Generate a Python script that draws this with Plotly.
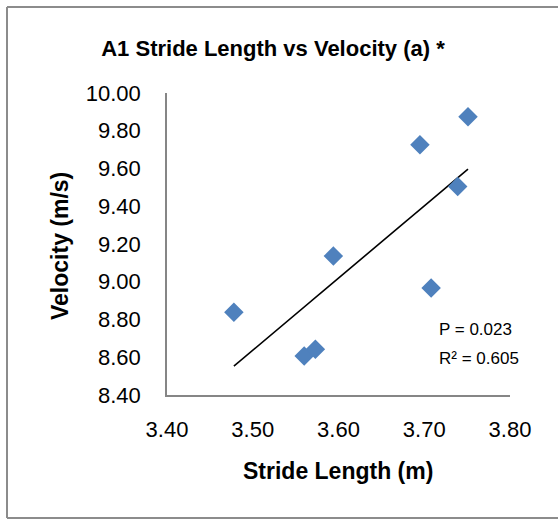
import numpy as np
import plotly.graph_objects as go

# Stride length (m) and velocity (m/s) per trial
stride_length = [3.478, 3.560, 3.573, 3.594, 3.695, 3.708, 3.739, 3.751]
velocity = [8.838, 8.607, 8.642, 9.136, 9.726, 8.967, 9.504, 9.874]

x_ticks = [3.40, 3.50, 3.60, 3.70, 3.80]
y_ticks = [8.40, 8.60, 8.80, 9.00, 9.20, 9.40, 9.60, 9.80, 10.00]

stats_lines = ["P = 0.023", "R² = 0.605"]

# Linear trend over the observed range
slope, intercept = np.polyfit(stride_length, velocity, 1)
trend_x = [min(stride_length), max(stride_length)]
trend_y = [slope * v + intercept for v in trend_x]

W, H = 558, 520
L, R, T, B = 167, 510, 93, 395  # plot-area edges in pixels

def px(x):
    return (x - L) / (R - L)

def py(y):
    return (B - y) / (B - T)

FONT = "Liberation Sans"

fig = go.Figure()
fig.add_trace(go.Scatter(
    x=trend_x, y=trend_y, mode="lines",
    line=dict(color="black", width=1.6),
    hoverinfo="skip", showlegend=False,
))
fig.add_trace(go.Scatter(
    x=stride_length, y=velocity, mode="markers",
    marker=dict(symbol="diamond", size=15, color="#4F81BD", line=dict(width=0)),
    showlegend=False,
))

axis_common = dict(
    showgrid=False, zeroline=False, showline=True,
    linecolor="#868686", linewidth=1.5,
    ticks="outside", tickcolor="rgba(0,0,0,0)",
    tickfont=dict(family=FONT, size=22, color="black"),
    tickformat=".2f",
)

fig.update_xaxes(range=[3.40, 3.80], tickvals=x_ticks, ticklen=14, **axis_common)
fig.update_yaxes(range=[8.40, 10.00], tickvals=y_ticks, ticklen=20, **axis_common)

annotations = [
    dict(text="<b>Stride Length (m)</b>", x=px(338), y=py(471),
         xref="paper", yref="paper", xanchor="center", yanchor="middle",
         showarrow=False, font=dict(family=FONT, size=23, color="black")),
    dict(text="<b>Velocity (m/s)</b>", x=px(60), y=py(246), textangle=-90,
         xref="paper", yref="paper", xanchor="center", yanchor="middle",
         showarrow=False, font=dict(family=FONT, size=23, color="black")),
]
for line, yc in zip(stats_lines, [329, 358]):
    annotations.append(dict(
        text=line, x=px(437), y=py(yc), xref="paper", yref="paper",
        xanchor="left", yanchor="middle", showarrow=False,
        font=dict(family=FONT, size=17, color="black"),
    ))

# Chart frame: left, top and bottom edges (the right edge runs past the page)
frame_style = dict(type="line", xref="paper", yref="paper",
                   line=dict(color="#8c8c8c", width=2), layer="below")
frame = [
    dict(x0=px(7), x1=px(7), y0=py(518), y1=py(7), **frame_style),
    dict(x0=px(7), x1=px(W + 5), y0=py(7), y1=py(7), **frame_style),
    dict(x0=px(7), x1=px(W + 5), y0=py(518), y1=py(518), **frame_style),
]

fig.update_layout(
    width=W, height=H,
    margin=dict(l=L, r=W - R, t=T, b=H - B),
    paper_bgcolor="white", plot_bgcolor="white",
    title=dict(
        text="<b>A1 Stride Length vs Velocity (a) *</b>",
        x=273 / W, xanchor="center", y=1 - 48 / H, yanchor="middle",
        font=dict(family=FONT, size=22, color="black"),
    ),
    annotations=annotations,
    shapes=frame,
)

fig.write_html("out.html")
